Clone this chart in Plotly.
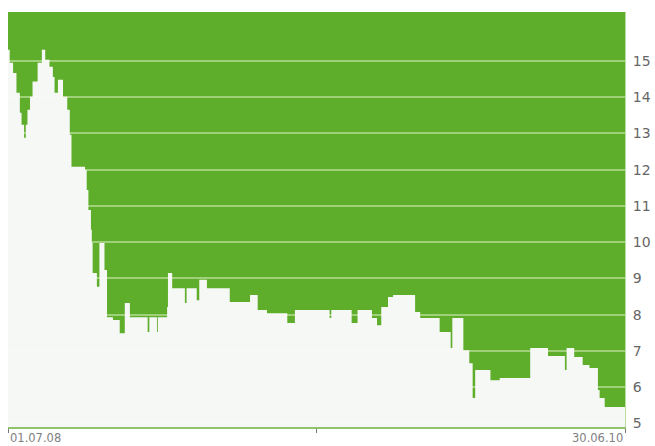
import plotly.graph_objects as go

# Step points (date where the level starts, level)
dates = [
    "2008-07-01", "2008-07-03", "2008-07-07", "2008-07-11", "2008-07-15", "2008-07-17",
    "2008-07-20", "2008-07-22", "2008-07-24", "2008-07-27", "2008-07-30", "2008-08-05",
    "2008-08-10", "2008-08-14", "2008-08-19", "2008-08-23", "2008-08-25", "2008-08-29",
    "2008-09-04", "2008-09-09", "2008-09-12", "2008-09-14", "2008-09-30", "2008-10-02",
    "2008-10-04", "2008-10-07", "2008-10-08", "2008-10-09", "2008-10-14", "2008-10-17",
    "2008-10-23", "2008-10-26", "2008-11-02", "2008-11-10", "2008-11-16", "2008-11-22",
    "2008-12-13", "2008-12-15", "2008-12-24", "2008-12-25", "2009-01-05", "2009-01-06",
    "2009-01-11", "2009-01-26", "2009-01-28", "2009-02-09", "2009-02-12", "2009-02-21",
    "2009-03-20", "2009-04-13", "2009-04-22", "2009-05-03", "2009-05-27", "2009-06-05",
    "2009-07-16", "2009-07-18", "2009-08-11", "2009-08-18", "2009-09-04", "2009-09-10",
    "2009-09-15", "2009-09-23", "2009-09-29", "2009-10-25", "2009-10-31", "2009-11-23",
    "2009-12-06", "2009-12-08", "2009-12-21", "2009-12-28", "2010-01-01", "2010-01-04",
    "2010-01-22", "2010-02-02", "2010-03-10", "2010-03-31", "2010-04-20", "2010-04-22",
    "2010-05-01", "2010-05-11", "2010-05-19", "2010-05-29", "2010-05-31", "2010-06-06",
    "2010-06-30",
]
values = [
    15.31, 14.95, 14.67, 14.12, 13.57, 13.24,
    12.88, 13.24, 13.65, 14.01, 14.43, 14.95,
    15.31, 15.03, 14.84, 14.56, 14.12, 14.48,
    14.01, 13.65, 12.96, 12.08, 11.99, 11.44,
    10.89, 10.34, 9.98, 9.15, 8.77, 9.98,
    9.23, 7.93, 7.85, 7.49, 8.32, 7.93,
    7.52, 7.93, 7.52, 7.93, 8.21, 9.15,
    8.73, 8.32, 8.73, 8.40, 8.96, 8.73,
    8.35, 8.54, 8.13, 8.04, 7.77, 8.13,
    7.91, 8.13, 7.77, 8.13, 7.91, 7.71,
    8.21, 8.49, 8.54, 8.07, 7.91, 7.52,
    7.08, 7.91, 7.02, 6.66, 5.70, 6.47,
    6.19, 6.25, 7.08, 6.86, 6.47, 7.08,
    6.83, 6.61, 6.53, 5.92, 5.70, 5.45,
    5.45,
]

y_ticks = [5, 6, 7, 8, 9, 10, 11, 12, 13, 14, 15]
x_tick_dates = ["2008-07-01", "2009-07-01", "2010-06-30"]
x_label_dates = ["2008-07-01", "2010-06-30"]
x_labels = ["01.07.08", "30.06.10"]

GREEN = "#5fae2b"

fig = go.Figure()
fig.add_trace(go.Scatter(
    x=dates, y=values, mode="lines", line=dict(shape="hv", width=0, color="#f9f9f9"),
    fill="tozeroy", fillcolor="rgba(249,249,249,0.985)", hoverinfo="skip",
))

fig.update_layout(
    width=655, height=446,
    margin=dict(l=8, r=30, t=12, b=19, autoexpand=False),
    paper_bgcolor="white",
    plot_bgcolor=GREEN,
    showlegend=False,
    xaxis=dict(
        range=["2008-07-01", "2010-06-30"], automargin=False,
        showgrid=False, zeroline=False,
        showline=True, linecolor="#8fc46a", linewidth=2,
        tickvals=x_tick_dates, ticks="outside", ticklen=4, tickcolor="#777777", tickwidth=1,
        showticklabels=False,
    ),
    yaxis=dict(
        range=[4.9, 16.35], side="right", automargin=False,
        tickvals=y_ticks, ticktext=[str(v) for v in y_ticks],
        showgrid=True, gridcolor="#9fd07a", gridwidth=2,
        zeroline=False, showline=True, linecolor="#b9dc9f", linewidth=1, mirror=False,
        ticks="", ticklabelstandoff=4,
        tickfont=dict(family="DejaVu Sans", size=14, color="#666666"),
    ),
)

for d, t, anchor in zip(x_label_dates, x_labels, ["left", "right"]):
    fig.add_annotation(
        x=d, y=0, xref="x", yref="paper", yshift=-2,
        text=t, showarrow=False, xanchor=anchor, yanchor="top",
        font=dict(family="DejaVu Sans", size=11.5, color="#808080"),
    )

fig.write_html(
    "out.html",
    config={"displayModeBar": False},
    post_script="document.body.style.margin='0';document.body.style.overflow='hidden';",
)
